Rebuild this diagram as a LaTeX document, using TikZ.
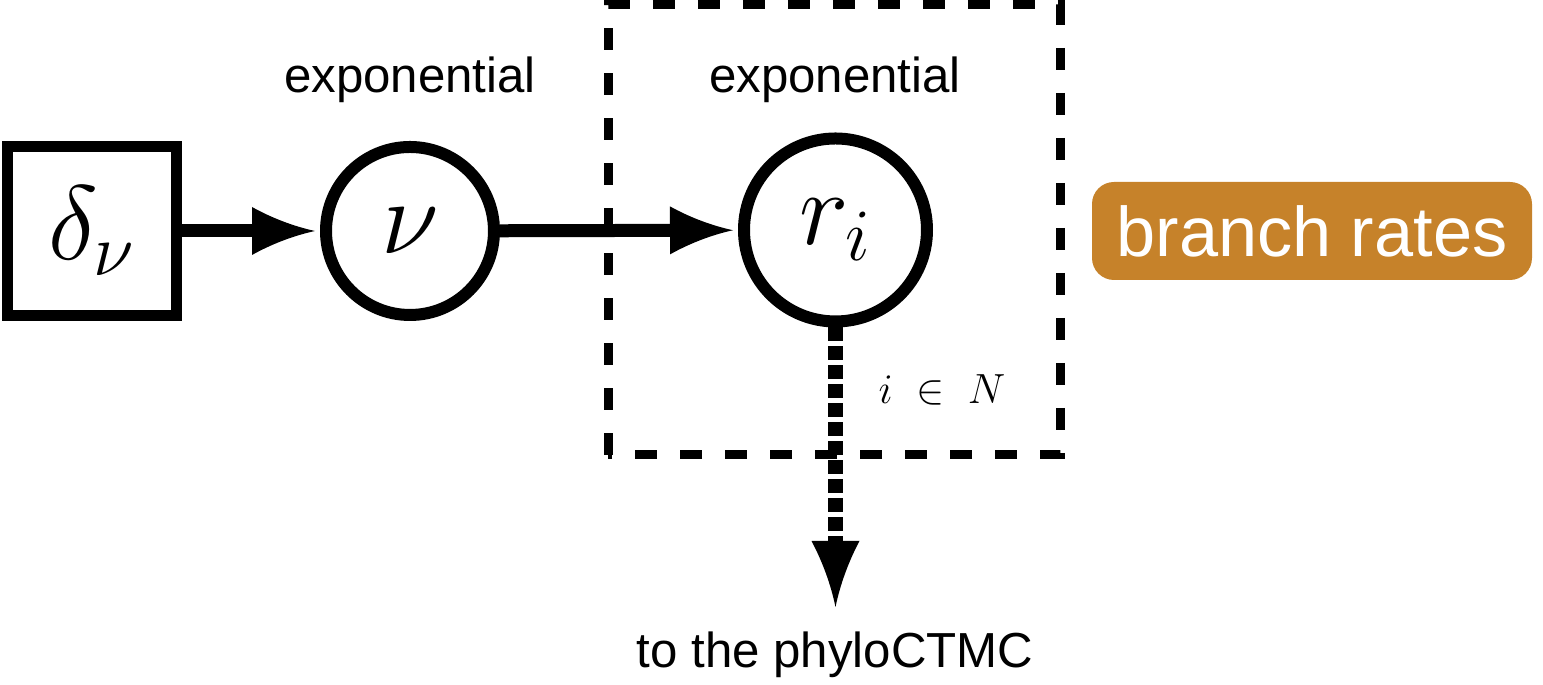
\RequirePackage{fix-cm}
\documentclass[tikz,border=0pt]{standalone}
\usepackage{fontspec}
\setmainfont{Liberation Sans}
\usetikzlibrary{arrows.meta}
\usetikzlibrary{positioning}
\definecolor{rateorange}{RGB}{198,130,42}
\newcommand\bigmath{\fontsize{30}{32}\selectfont}
% arrow head with hollow (concave) sides
\pgfdeclarearrow{
  name = Hollow,
  parameters = {\the\pgfarrowlength,\the\pgfarrowwidth},
  setup code = {
    \pgfarrowssettipend{0pt}
    \pgfarrowssetlineend{-0.5\pgfarrowlength}
    \pgfarrowssetbackend{-\pgfarrowlength}
    \pgfarrowshullpoint{0pt}{0pt}
    \pgfarrowshullpoint{-\pgfarrowlength}{.5\pgfarrowwidth}
    \pgfarrowshullpoint{-\pgfarrowlength}{-.5\pgfarrowwidth}
  },
  drawing code = {
    \pgfpathmoveto{\pgfqpoint{0pt}{0pt}}
    \pgfpathcurveto{\pgfqpoint{-.35\pgfarrowlength}{.1\pgfarrowwidth}}
      {\pgfqpoint{-.7\pgfarrowlength}{.28\pgfarrowwidth}}
      {\pgfqpoint{-\pgfarrowlength}{.5\pgfarrowwidth}}
    \pgfpathlineto{\pgfqpoint{-\pgfarrowlength}{-.5\pgfarrowwidth}}
    \pgfpathcurveto{\pgfqpoint{-.7\pgfarrowlength}{-.28\pgfarrowwidth}}
      {\pgfqpoint{-.35\pgfarrowlength}{-.1\pgfarrowwidth}}
      {\pgfqpoint{0pt}{0pt}}
    \pgfpathclose
    \pgfusepathqfill
  },
  defaults = {length=0.63cm,width=0.48cm}
}
\tikzset{
  const/.style={draw,line width=0.11cm,minimum size=1.69cm,inner sep=0pt},
  stoch/.style={circle,draw,line width=0.12cm,inner sep=0pt},
  dist/.style={font=\fontsize{14}{16}\selectfont},
  edge/.style={line width=0.13cm,-{Hollow[length=0.63cm,width=0.48cm]}},
  detedge/.style={line width=0.15cm,dash pattern=on 0.14cm off 0.05cm,
    -{Hollow[length=0.66cm,width=0.48cm]}},
  plate/.style={line width=0.09cm,dash pattern=on 0.22cm off 0.23cm},
  tag/.style={fill=rateorange,text=white,rounded corners=0.22cm,inner sep=0pt,
    minimum width=4.40cm,minimum height=0.98cm,font=\fontsize{20}{22}\selectfont}
}

\begin{document}
\begin{tikzpicture}
  %
  \useasboundingbox (0,0) rectangle (15.43,6.85);

  % plate
  \draw[plate] (6.08,2.30) rectangle (10.60,6.80);
  \node[font=\fontsize{12}{14}\selectfont] (range) at (9.42,2.95) {$i \ \in \ N$};

  % nodes
  \node[const] (delta) at (0.92,4.54) {\bigmath$\delta_\nu$};
  \node[stoch,minimum size=1.68cm] (nu) at (4.10,4.54) {\bigmath$\nu$};
  \node[stoch,minimum size=1.83cm] (rate) at (8.355,4.55) {\bigmath$r_i$};

  \node[dist] (nudist) at (4.10,6.05) {exponential};
  \node[dist] (ratedist) at (8.35,6.05) {exponential};

  \coordinate (out) at (8.355,0.78);
  \node[dist] (ctmc) at (8.35,0.30) {to the phyloCTMC};

  \node[tag] (branch) at (13.12,4.54) {branch rates};

  % edges
  \draw[edge,shorten >=0.05cm] (delta) -- (nu);
  \draw[edge,shorten >=0.05cm] (nu) -- (rate);
  \draw[detedge] (rate) -- (out);

\end{tikzpicture}
\end{document}
